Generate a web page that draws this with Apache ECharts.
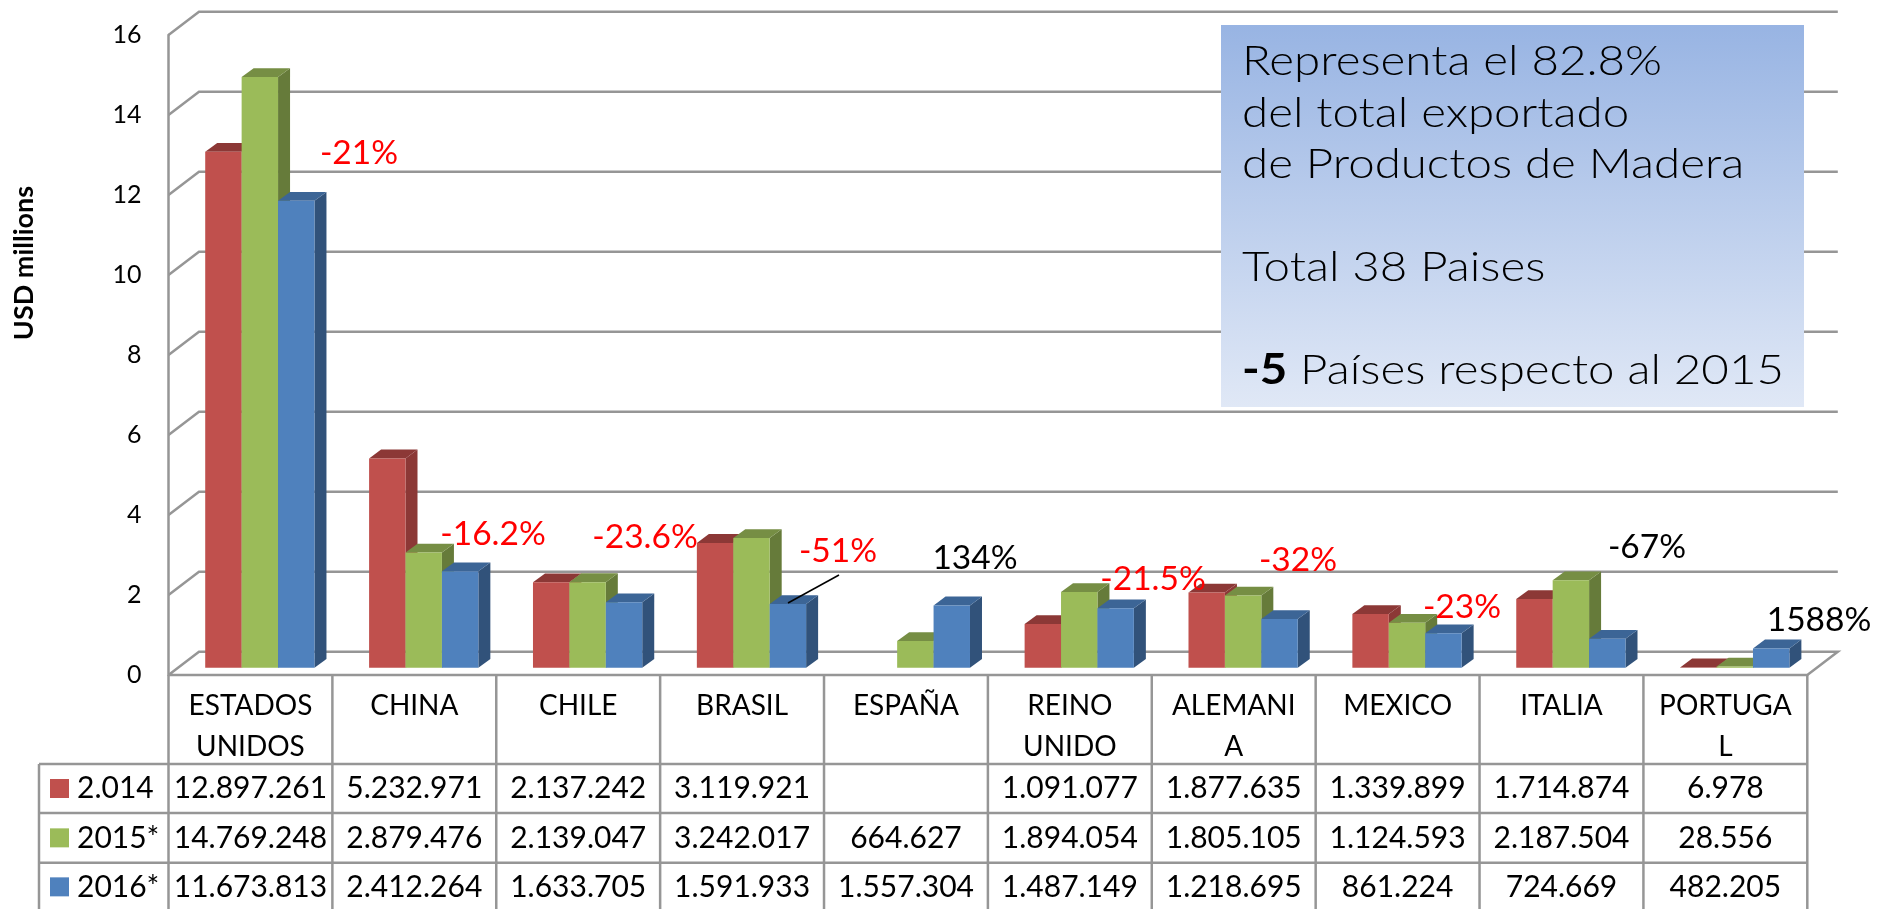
<!DOCTYPE html>
<html>
<head>
<meta charset="utf-8">
<title>Exportaciones de Productos de Madera</title>
<style>
html, body { margin: 0; padding: 0; background: #fff; }
#chart { width: 1878px; height: 909px; }
</style>
<script src="https://cdn.jsdelivr.net/npm/echarts@6/dist/echarts.min.js"></script>
</head>
<body>
<div id="chart"></div>
<script>
var categories = ['ESTADOS\nUNIDOS', 'CHINA', 'CHILE', 'BRASIL', 'ESPAÑA', 'REINO\nUNIDO', 'ALEMANI\nA', 'MEXICO', 'ITALIA', 'PORTUGA\nL'];
var seriesNames = ['2.014', '2015*', '2016*'];
var values2014 = [12897261, 5232971, 2137242, 3119921, null, 1091077, 1877635, 1339899, 1714874, 6978];
var values2015 = [14769248, 2879476, 2139047, 3242017, 664627, 1894054, 1805105, 1124593, 2187504, 28556];
var values2016 = [11673813, 2412264, 1633705, 1591933, 1557304, 1487149, 1218695, 861224, 724669, 482205];
var yTicks = [0, 2, 4, 6, 8, 10, 12, 14, 16];
var changeLabels = ['-21%', '-16.2%', '-23.6%', '-51%', '134%', '-21.5%', '-32%', '-23%', '-67%', '1588%'];

// layout (pixels)
var changePos = [[359, 153], [493, 534], [645, 537], [838, 551], [975, 558], [1153, 579], [1298, 560], [1462, 607], [1647, 547], [1819, 620]];
var changeColor = ['#ff0000', '#ff0000', '#ff0000', '#ff0000', '#000', '#ff0000', '#ff0000', '#ff0000', '#000', '#000'];
var wall = { dx: 30.5, dy: -23.3 };
var barPlane = { dx: 9.4, dy: -7.3 };
var barDepth = { dx: 12, dy: -8.8 };
var tableRows = [764, 813, 862.7, 911];
var tableLeft = 39;
var lineColor = '#969696';
var tableFont = 'Lato';
var faces = [
	{ front: '#C0504D', top: '#8C3836', side: '#8C3836' },
	{ front: '#9BBB59', top: '#768E44', side: '#667B3A' },
	{ front: '#4F81BD', top: '#3C6596', side: '#31527A' }
];
var allValues = [values2014, values2015, values2016];

function fmt(v) {
	if (v === null) return '';
	return String(v).replace(/\B(?=(\d{3})+$)/g, '.');
}

function barRender(k) {
	return function(params, api) {
		if (api.value(1) === null || isNaN(api.value(1))) return null;
		var base = api.coord([api.value(0), 0]);
		var top = api.coord([api.value(0), api.value(1)]);
		var barW = api.size([1, 0])[0] / 4.5;
		var x0 = base[0] + barPlane.dx + (k - 1.5) * barW;
		var x1 = x0 + barW;
		var y0 = base[1] + barPlane.dy;
		var y1 = top[1] + barPlane.dy;
		var dx = barDepth.dx, dy = barDepth.dy;
		return {
			type: 'group',
			children: [
				{ type: 'polygon', shape: { points: [[x1, y0], [x1 + dx, y0 + dy], [x1 + dx, y1 + dy], [x1, y1]] }, style: { fill: faces[k].side } },
				{ type: 'polygon', shape: { points: [[x0, y1], [x0 + dx, y1 + dy], [x1 + dx, y1 + dy], [x1, y1]] }, style: { fill: faces[k].top } },
				{ type: 'rect', shape: { x: x0, y: y1, width: barW, height: y0 - y1 }, style: { fill: faces[k].front } }
			]
		};
	};
}

function gridRender(params, api) {
	var cs = params.coordSys;
	var y = api.coord([0, api.value(0)])[1];
	var right = cs.x + cs.width;
	var pts = [[cs.x, y], [cs.x + wall.dx, y + wall.dy], [right + wall.dx, y + wall.dy]];
	if (api.value(0) === 0) {
		pts.push([right, y]);
		pts.push([cs.x, y]);
	}
	return {
		type: 'polyline',
		shape: { points: pts },
		style: { stroke: lineColor, lineWidth: 2.5, fill: null }
	};
}

function cellText(x, y, text, vAlign, size) {
	return {
		type: 'text', x: x, y: y,
		style: { text: text, font: size + 'px ' + tableFont, fill: '#000', align: 'center', verticalAlign: vAlign, lineHeight: 41 }
	};
}

function tableRender(params, api) {
	var cs = params.coordSys;
	var i = api.value(0);
	var band = api.size([1, 0])[0];
	var cx = api.coord([i, 0])[0];
	var right = cx + band / 2;
	var kids = [];
	var bottom = tableRows[3];
	kids.push({ type: 'line', shape: { x1: right, y1: cs.y + cs.height, x2: right, y2: bottom }, style: { stroke: lineColor, lineWidth: 2.5 } });
	kids.push(cellText(cx, 685, categories[i], 'top', 28));
	for (var r = 0; r < 3; r++) {
		kids.push(cellText(cx, (tableRows[r] + tableRows[r + 1]) / 2, fmt(allValues[r][i]), 'middle', 30));
	}
	if (i === 0) {
		kids.push({ type: 'line', shape: { x1: cs.x, y1: cs.y + cs.height, x2: cs.x, y2: bottom }, style: { stroke: lineColor, lineWidth: 2.5 } });
		kids.push({ type: 'line', shape: { x1: tableLeft, y1: tableRows[0], x2: tableLeft, y2: bottom }, style: { stroke: lineColor, lineWidth: 2.5 } });
		for (var h = 0; h < 3; h++) {
			kids.push({ type: 'line', shape: { x1: tableLeft, y1: tableRows[h], x2: cs.x + cs.width, y2: tableRows[h] }, style: { stroke: lineColor, lineWidth: 2.5 } });
			var mid = (tableRows[h] + tableRows[h + 1]) / 2;
			kids.push({ type: 'rect', shape: { x: 50, y: mid - 9.5, width: 19, height: 19 }, style: { fill: faces[h].front } });
			kids.push({
				type: 'text', x: 77, y: mid,
				style: { text: seriesNames[h], font: '30px ' + tableFont, fill: '#000', align: 'left', verticalAlign: 'middle' }
			});
		}
	}
	return { type: 'group', children: kids };
}

function barData(values) {
	return values.map(function(v, i) {
		return [i, v === null ? null : v / 1000000];
	});
}

var graphics = [
	{
		type: 'rect', z: 20,
		shape: { x: 1221, y: 25, width: 583, height: 382 },
		style: {
			fill: new echarts.graphic.LinearGradient(0, 0, 0, 1, [
				{ offset: 0, color: '#98B4E3' },
				{ offset: 1, color: '#E0E8F6' }
			])
		}
	},
	{
		type: 'text', z: 21, x: 1242, y: 36, scaleX: 1.13,
		style: {
			text: 'Representa el 82.8%\ndel total exportado\nde Productos de Madera\n\nTotal 38 Paises\n\n{b|-5} Países respecto al 2015',
			font: '300 42px Lato', fill: '#000', lineHeight: 51.5,
			rich: { b: { font: 'bold 42px Lato', lineHeight: 51.5 } }
		}
	},
	{
		type: 'text', z: 21, x: 24, y: 263, rotation: Math.PI / 2,
		style: { text: 'USD millions', font: 'bold 27px Lato', fill: '#000', align: 'center', verticalAlign: 'middle' }
	},
	{
		type: 'line', z: 21,
		shape: { x1: 788, y1: 603, x2: 839, y2: 575 },
		style: { stroke: '#000', lineWidth: 1.5 }
	}
];
changeLabels.forEach(function(t, i) {
	graphics.push({
		type: 'text', z: 22, x: changePos[i][0], y: changePos[i][1],
		style: { text: t, font: '33.5px ' + tableFont, fill: changeColor[i], align: 'center', verticalAlign: 'middle' }
	});
});

var myChart = echarts.init(document.getElementById('chart'));
var option = {
	animation: false,
	grid: { left: 168.5, top: 35, width: 1638.8, height: 640 },
	xAxis: {
		type: 'category',
		data: categories,
		axisLine: { show: false },
		axisTick: { show: false },
		axisLabel: { show: false },
		splitLine: { show: false }
	},
	yAxis: {
		type: 'value',
		min: 0,
		max: 16,
		interval: 2,
		axisLine: { show: true, lineStyle: { color: lineColor, width: 2.5 } },
		axisTick: { show: false },
		splitLine: { show: false },
		axisLabel: { fontFamily: tableFont, fontSize: 25, color: '#000', margin: 27 }
	},
	graphic: graphics,
	series: [
		{ name: 'walls', type: 'custom', clip: false, z: 1, data: yTicks.map(function(t) { return [t]; }), encode: { y: 0 }, renderItem: gridRender, silent: true },
		{ name: 'table', type: 'custom', clip: false, z: 2, data: categories.map(function(c, i) { return [i]; }), encode: { x: 0 }, renderItem: tableRender, silent: true },
		{ name: seriesNames[0], type: 'custom', clip: false, z: 3, data: barData(values2014), encode: { x: 0, y: 1 }, renderItem: barRender(0) },
		{ name: seriesNames[1], type: 'custom', clip: false, z: 4, data: barData(values2015), encode: { x: 0, y: 1 }, renderItem: barRender(1) },
		{ name: seriesNames[2], type: 'custom', clip: false, z: 5, data: barData(values2016), encode: { x: 0, y: 1 }, renderItem: barRender(2) }
	]
};
myChart.setOption(option);
</script>
</body>
</html>
